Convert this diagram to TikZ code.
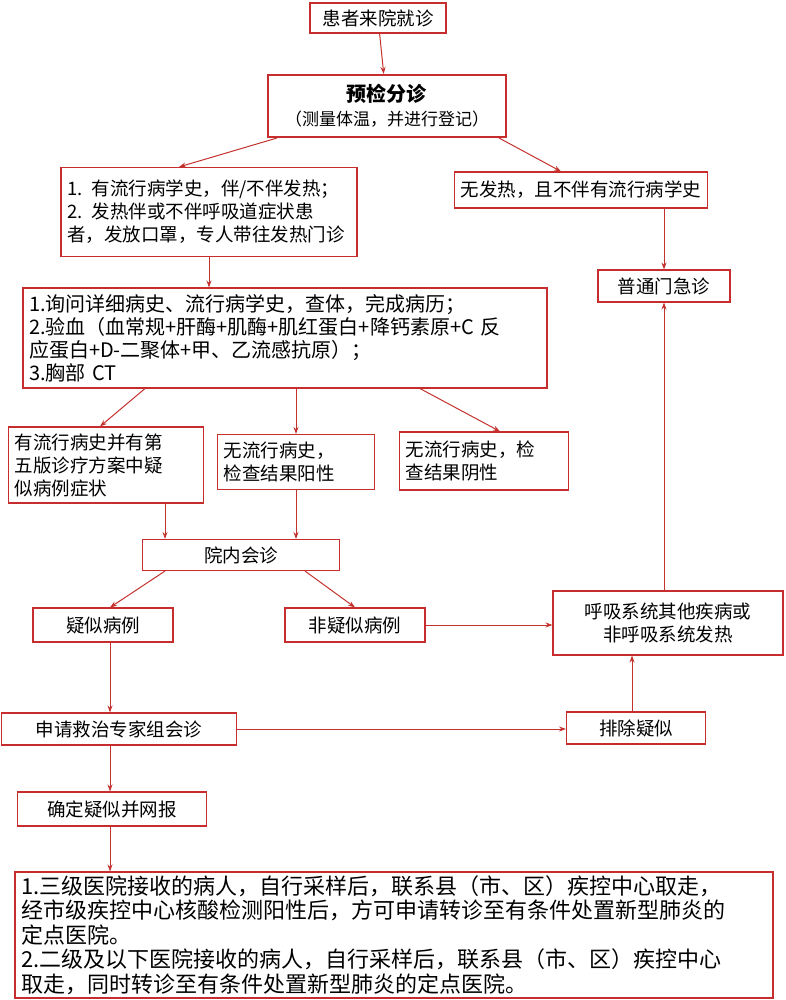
\documentclass[tikz,border=0pt]{standalone}
\usepackage{fontspec}
\setmainfont{Noto Sans CJK SC}
\usetikzlibrary{arrows.meta}
\definecolor{bx}{RGB}{200,45,45}
\definecolor{ar}{RGB}{195,50,45}
\tikzset{
 bx/.style={draw=bx,line width=1.1pt,inner sep=2pt,font=\fontsize{18.5}{23}\selectfont,align=center},
 bxl/.style={bx,align=left,inner xsep=6pt,text width=#1},
 ar/.style={draw=ar,line width=1pt,-{Stealth[length=7pt,width=5pt]}}
}
\begin{document}
\begin{tikzpicture}[x=1pt,y=-1pt]
\useasboundingbox (0,0) rectangle (785,1000);
\node[bx,minimum width=136pt,minimum height=30pt] (a) at (378,18) {患者来院就诊};
\node[bx,line width=2pt,minimum width=238pt,minimum height=62pt] (b) at (387,106) {\textbf{\fontsize{20}{24}\selectfont 预检分诊}\\[1pt]{\fontsize{17}{20}\selectfont （测量体温，并进行登记）}};
\node[bxl=284pt,minimum height=89pt] (c) at (209,212) {1. 有流行病学史，伴/不伴发热；\\2. 发热伴或不伴呼吸道症状患\\者，发放口罩，专人带往发热门诊};
\node[bx,minimum width=253pt,minimum height=36pt] (d) at (581,190) {无发热，且不伴有流行病学史};
\node[bx,minimum width=132pt,minimum height=32pt] (e) at (664,286) {普通门急诊};
\node[bxl=512pt,minimum height=100pt,font=\fontsize{20}{23}\selectfont] (f) at (285,338) {1.询问详细病史、流行病学史，查体，完成病历；\\2.验血（血常规+肝酶+肌酶+肌红蛋白+降钙素原+C 反\\应蛋白+D-二聚体+甲、乙流感抗原）；\\3.胸部 CT};
\node[bxl=183pt,minimum height=76pt] (g) at (106,465) {有流行病史并有第\\五版诊疗方案中疑\\似病例症状};
\node[bxl=145pt,minimum height=55pt] (h) at (296,462) {无流行病史，\\检查结果阳性};
\node[bxl=157pt,minimum height=58pt] (i) at (484,461) {无流行病史，检\\查结果阴性};
\node[bx,minimum width=197pt,minimum height=31pt] (j) at (241,555) {院内会诊};
\node[bx,minimum width=140pt,minimum height=34pt] (k) at (103,625) {疑似病例};
\node[bx,minimum width=140pt,minimum height=34pt] (l) at (355,625) {非疑似病例};
\node[bx,minimum width=230pt,minimum height=64pt] (m) at (668,623) {呼吸系统其他疾病或\\非呼吸系统发热};
\node[bx,minimum width=235pt,minimum height=32pt] (n) at (119,729) {申请救治专家组会诊};
\node[bx,minimum width=139pt,minimum height=32pt] (o) at (636,728) {排除疑似};
\node[bx,minimum width=189pt,minimum height=34pt] (p) at (112,809) {确定疑似并网报};
\node[bxl=746pt,minimum height=126pt,font=\fontsize{22}{24.5}\selectfont] (q) at (394,935) {1.三级医院接收的病人，自行采样后，联系县（市、区）疾控中心取走，\\经市级疾控中心核酸检测阳性后，方可申请转诊至有条件处置新型肺炎的\\定点医院。\\2.二级及以下医院接收的病人，自行采样后，联系县（市、区）疾控中心\\取走，同时转诊至有条件处置新型肺炎的定点医院。};
\draw[ar] (a) -- (b);
\draw[ar] (b.south west)++(10,0) -- ([xshift=-30pt]c.north);
\draw[ar] (b.south east)++(-8,0) -- ([xshift=-20pt]d.north);
\draw[ar] (c.south) -- (c.south|-f.north);
\draw[ar] (d.south-|e) -- (e.north);
\draw[ar] ([xshift=-140pt]f.south) -- ([xshift=-6pt]g.north);
\draw[ar] (f.south-|h) -- (h.north);
\draw[ar] ([xshift=135pt]f.south) -- ([xshift=16pt]i.north);
\draw[ar] ([xshift=59pt]g.south) -- ([xshift=-76pt]j.north);
\draw[ar] (h.south) -- (h.south|-j.north);
\draw[ar] ([xshift=-76pt]j.south) -- ([xshift=7pt]k.north);
\draw[ar] ([xshift=64pt]j.south) -- ([xshift=0pt]l.north);
\draw[ar] (l.east) -- (l.east-|m.west);
\draw[ar] (m.north-|e) -- (e.south);
\draw[ar] ([xshift=7pt]k.south) -- ([xshift=7pt]k.south|-n.north);
\draw[ar] (n.east) -- (n.east-|o.west);
\draw[ar] ([xshift=-4pt]o.north) -- ([xshift=-4pt]o.north|-m.south);
\draw[ar] ([xshift=-9pt]n.south) -- ([xshift=-9pt]n.south|-p.north);
\draw[ar] ([xshift=-2pt]p.south) -- ([xshift=-2pt]p.south|-q.north);
\end{tikzpicture}
\end{document}
